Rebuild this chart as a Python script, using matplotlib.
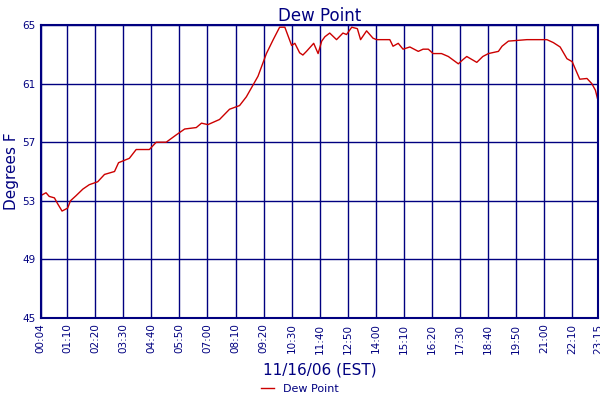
import matplotlib
matplotlib.use('Agg')
import matplotlib.pyplot as plt

# minutes after midnight, dew point (F)
minutes = [7, 17, 25, 38, 46, 57, 71, 78, 92, 109, 125, 146, 163, 188, 198, 225, 242, 275,
           292, 317, 342, 363, 392, 405, 421, 450, 475, 500, 517, 546, 567, 584, 600, 613,
           630, 638, 650, 658, 667, 685, 696, 705, 713, 725, 742, 758, 767, 780, 794, 802,
           817, 833, 842, 875, 883, 896, 908, 925, 946, 958, 971, 983, 1004, 1021, 1046,
           1058, 1067, 1092, 1107, 1121, 1146, 1155, 1171, 1217, 1250, 1267, 1283, 1300,
           1317, 1330, 1349, 1367, 1379, 1388, 1393]
dew = [53.4, 53.55, 53.3, 53.2, 52.8, 52.3, 52.5, 53.0, 53.35, 53.8, 54.1, 54.3, 54.8, 55.0,
       55.6, 55.9, 56.5, 56.5, 57.0, 57.0, 57.5, 57.9, 58.0, 58.3, 58.2, 58.55, 59.25, 59.5,
       60.1, 61.5, 63.05, 64.0, 64.85, 64.85, 63.6, 63.75, 63.1, 62.95, 63.2, 63.75, 63.05,
       63.9, 64.2, 64.45, 64.0, 64.45, 64.35, 64.85, 64.75, 64.0, 64.6, 64.1, 64.0, 64.0,
       63.55, 63.75, 63.35, 63.5, 63.2, 63.35, 63.35, 63.05, 63.05, 62.85, 62.35, 62.65,
       62.85, 62.45, 62.85, 63.05, 63.2, 63.55, 63.9, 64.0, 64.0, 64.0, 63.8, 63.5, 62.7,
       62.5, 61.3, 61.35, 61.0, 60.55, 60.0]

tick_min = [4] + list(range(70, 1331, 70)) + [1395]
tick_lbl = ['%02d:%02d' % (m // 60, m % 60) for m in tick_min]
yticks = [45, 49, 53, 57, 61, 65]

navy = '#000080'
fig = plt.figure(figsize=(6, 4), dpi=100)
ax = fig.add_axes([0.068, 0.205, 0.929, 0.7325])
ax.plot(minutes, dew, color='#cc0000', lw=1, label='Dew Point')
ax.set_xlim(4, 1395)
ax.set_ylim(45, 65)
ax.set_xticks(tick_min)
ax.set_xticklabels(tick_lbl, rotation=90, fontsize=7.5, color=navy)
ax.set_yticks(yticks)
ax.set_yticklabels([str(v) for v in yticks], fontsize=7.5, color=navy)
ax.tick_params(length=0, pad=4)
ax.grid(True, color=navy, lw=1)
for s in ax.spines.values():
    s.set_color(navy)
    s.set_linewidth(1.5)
ax.set_title('Dew Point', color=navy, fontsize=12, pad=3)
ax.set_ylabel('Degrees F', color=navy, fontsize=11, labelpad=2)
ax.set_xlabel('11/16/06 (EST)', color=navy, fontsize=11, labelpad=6)
fig.legend(loc='lower center', bbox_to_anchor=(0.5, -0.01), frameon=False, fontsize=8,
           handlelength=1.2, labelcolor=navy)
fig.savefig('out.png')
